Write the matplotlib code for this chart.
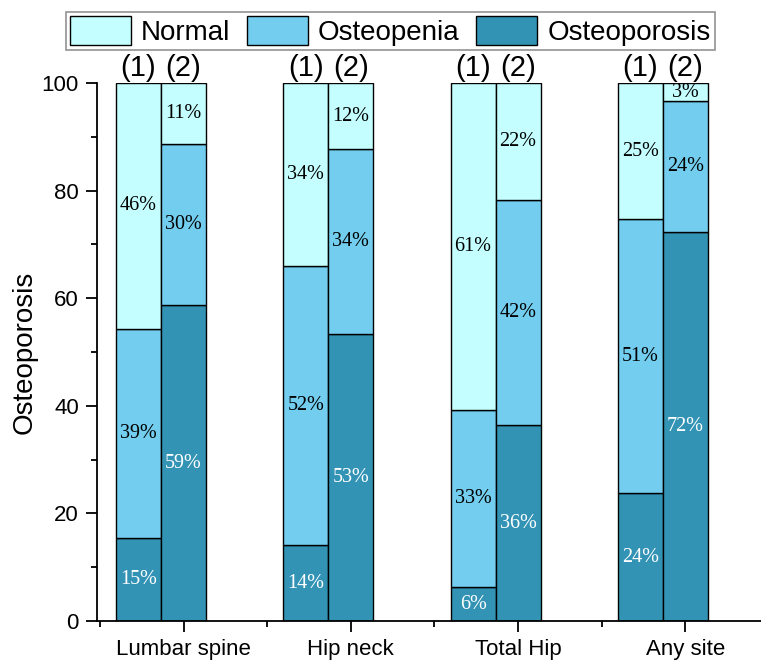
import numpy as np
import matplotlib
matplotlib.use("Agg")
import matplotlib.pyplot as plt
from matplotlib.ticker import MultipleLocator
from matplotlib.patches import Patch

sites = ["Lumbar spine", "Hip neck", "Total Hip", "Any site"]

# group (1)
osteoporosis_1 = [15.4, 14.1, 6.3, 23.7]
osteopenia_1 = [38.9, 51.8, 32.9, 51.0]
normal_1 = [45.7, 34.1, 60.8, 25.3]

# group (2)
osteoporosis_2 = [58.7, 53.3, 36.4, 72.3]
osteopenia_2 = [29.9, 34.4, 41.8, 24.3]
normal_2 = [11.4, 12.3, 21.8, 3.4]

c_normal = "#C4FEFF"
c_penia = "#73CDEE"
c_porosis = "#3393B5"

plt.rcParams["font.family"] = ["Liberation Sans", "DejaVu Sans"]

fig = plt.figure(figsize=(7.61, 6.62), dpi=100)
ax = fig.add_axes([0.1275, 0.062, 0.8725, 0.8126])

x = np.arange(1, len(sites) + 1)
w = 0.269


def draw_stack(xpos, porosis, penia, normal):
    ax.bar(xpos, porosis, w, color=c_porosis, edgecolor="black", linewidth=1)
    ax.bar(xpos, penia, w, bottom=porosis, color=c_penia, edgecolor="black", linewidth=1)
    bot = np.array(porosis) + np.array(penia)
    ax.bar(xpos, normal, w, bottom=bot, color=c_normal, edgecolor="black", linewidth=1)
    for i in range(len(xpos)):
        segs = [(0, porosis[i], "white"),
                (porosis[i], penia[i], "black"),
                (bot[i], normal[i], "black")]
        for b, v, col in segs:
            ax.text(xpos[i], b + v / 2, f"{v:.0f}%", ha="center", va="center",
                    color=col, fontsize=14.5, family="Liberation Serif")


draw_stack(x - w, osteoporosis_1, osteopenia_1, normal_1)
draw_stack(x, osteoporosis_2, osteopenia_2, normal_2)

for xi in x:
    ax.text(xi - w, 102.8, "(1)", ha="center", va="center", fontsize=21, clip_on=False)
    ax.text(xi, 102.8, "(2)", ha="center", va="center", fontsize=21, clip_on=False)

ax.set_xlim(0.483, 4.452)
ax.set_ylim(0, 100)
ax.set_xticks(x)
ax.set_xticklabels(sites, fontsize=16)
ax.set_xticks([0.5, 1.5, 2.5, 3.5], minor=True)
ax.yaxis.set_major_locator(MultipleLocator(20))
ax.yaxis.set_minor_locator(MultipleLocator(10))
ax.tick_params(axis="both", which="major", length=8, width=1.3, labelsize=16, pad=5)
ax.tick_params(axis="both", which="minor", length=4, width=1.3)
ax.tick_params(axis="x", which="major", pad=5)

ax.spines["top"].set_visible(False)
ax.spines["right"].set_visible(False)
ax.spines["left"].set_linewidth(1.3)
ax.spines["bottom"].set_linewidth(1.3)

ax.set_ylabel("Osteoporosis", fontsize=20, labelpad=3)

handles = [Patch(facecolor=c_normal, edgecolor="black", label="Normal"),
           Patch(facecolor=c_penia, edgecolor="black", label="Osteopenia"),
           Patch(facecolor=c_porosis, edgecolor="black", label="Osteoporosis")]
leg = fig.legend(handles=handles, ncol=3, loc="upper center",
                 bbox_to_anchor=(0.513, 0.982), fontsize=20, frameon=True,
                 fancybox=False, edgecolor="#777777", handlelength=2.2,
                 handleheight=1.2, handletextpad=0.35, columnspacing=0.6,
                 borderpad=0.15, borderaxespad=0)
leg.get_frame().set_linewidth(1.2)

fig.savefig("out.png", dpi=100)
